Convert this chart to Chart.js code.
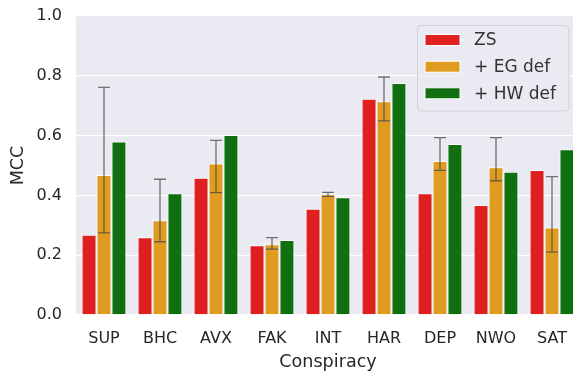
<!DOCTYPE html>
<html>
<head>
<meta charset="utf-8">
<script src="https://cdn.jsdelivr.net/npm/chart.js@4.4.1/dist/chart.umd.min.js"></script>
<style>
  html, body { margin: 0; padding: 0; background: #ffffff; overflow: hidden; }
  #wrap { width: 573px; height: 371px; overflow: hidden; position: relative; }
  #box { width: 584px; height: 371px; position: absolute; left: 0; top: 0; }
</style>
</head>
<body>
<div id="wrap"><div id="box"><canvas id="mccChart"></canvas></div></div>
<script>
// datos
const categories = ['SUP', 'BHC', 'AVX', 'FAK', 'INT', 'HAR', 'DEP', 'NWO', 'SAT'];
const zsValues = [0.268, 0.260, 0.459, 0.233, 0.355, 0.723, 0.407, 0.368, 0.485];
const egValues = [0.468, 0.317, 0.507, 0.237, 0.404, 0.715, 0.515, 0.494, 0.293];
const hwValues = [0.580, 0.407, 0.602, 0.251, 0.394, 0.776, 0.572, 0.479, 0.554];
// barras de error de "+ EG def"
const egLow  = [0.275, 0.245, 0.409, 0.220, 0.397, 0.649, 0.484, 0.449, 0.210];
const egHigh = [0.761, 0.454, 0.584, 0.259, 0.410, 0.796, 0.593, 0.593, 0.463];
const yTicks = [0.0, 0.2, 0.4, 0.6, 0.8, 1.0];

const textColor = '#262626';
const fontFamily = "'DejaVu Sans', sans-serif";

// fondo gris del area del grafico
const plotBackground = {
    id: 'plotBackground',
    beforeDraw(chart) {
        const { ctx, chartArea } = chart;
        ctx.save();
        ctx.fillStyle = '#eaeaf2';
        ctx.fillRect(chartArea.left, chartArea.top, chartArea.right - chartArea.left, chartArea.bottom - chartArea.top);
        ctx.restore();
    }
};

// lineas de error sobre la serie naranja
const errorBars = {
    id: 'errorBars',
    afterDatasetsDraw(chart) {
        const ctx = chart.ctx;
        const y = chart.scales.y;
        const meta = chart.getDatasetMeta(1);
        ctx.save();
        ctx.strokeStyle = 'rgba(70,70,70,0.75)';
        ctx.lineWidth = 1.3;
        meta.data.forEach((bar, i) => {
            const x = bar.x;
            const top = y.getPixelForValue(egHigh[i]);
            const bottom = y.getPixelForValue(egLow[i]);
            const cap = 6;
            ctx.beginPath();
            ctx.moveTo(x, top); ctx.lineTo(x, bottom);
            ctx.moveTo(x - cap, top); ctx.lineTo(x + cap, top);
            ctx.moveTo(x - cap, bottom); ctx.lineTo(x + cap, bottom);
            ctx.stroke();
        });
        ctx.restore();
    }
};

// leyenda dibujada a mano, estilo seaborn
const boxLegend = {
    id: 'boxLegend',
    afterDraw(chart) {
        const ctx = chart.ctx;
        const x0 = 417.5, y0 = 25.5, w = 151.5, h = 85.5, r = 4;
        ctx.save();
        ctx.beginPath();
        ctx.roundRect(x0, y0, w, h, r);
        ctx.fillStyle = 'rgba(234,234,242,0.85)';
        ctx.fill();
        ctx.strokeStyle = '#d0d0d6';
        ctx.lineWidth = 1;
        ctx.stroke();
        ctx.font = '17px ' + fontFamily;
        ctx.textBaseline = 'middle';
        ctx.textAlign = 'left';
        const rows = [40, 66.7, 93.3];
        chart.data.datasets.forEach((ds, i) => {
            const cy = rows[i];
            ctx.fillStyle = ds.backgroundColor;
            ctx.fillRect(425, cy - 5.5, 35, 11);
            ctx.strokeStyle = '#ffffff';
            ctx.lineWidth = 1;
            ctx.strokeRect(425, cy - 5.5, 35, 11);
            ctx.fillStyle = '#333333';
            ctx.fillText(ds.label, 474, cy + 1);
        });
        ctx.restore();
    }
};

const ctx = document.getElementById('mccChart').getContext('2d');
const mccChart = new Chart(ctx, {
    type: 'bar',
    data: {
        labels: categories,
        datasets: [{
            label: 'ZS',
            data: zsValues,
            backgroundColor: '#df2020',
            borderColor: '#ffffff',
            borderWidth: 1
        }, {
            label: '+ EG def',
            data: egValues,
            backgroundColor: '#df9c20',
            borderColor: '#ffffff',
            borderWidth: 1
        }, {
            label: '+ HW def',
            data: hwValues,
            backgroundColor: '#107010',
            borderColor: '#ffffff',
            borderWidth: 1
        }]
    },
    options: {
        responsive: true,
        maintainAspectRatio: false,
        animation: false,
        devicePixelRatio: 1,
        layout: { padding: { top: 16, right: 4, left: 0, bottom: 0 } },
        datasets: {
            bar: { categoryPercentage: 0.8, barPercentage: 1.0 }
        },
        plugins: {
            legend: { display: false },
            tooltip: { enabled: false }
        },
        scales: {
            x: {
                grid: { display: false },
                border: { display: false },
                ticks: {
                    color: textColor,
                    font: { family: fontFamily, size: 16 },
                    padding: 6,
                    maxRotation: 0
                },
                title: {
                    display: true,
                    text: 'Conspiracy',
                    color: textColor,
                    font: { family: fontFamily, size: 17.6, lineHeight: 1.0 },
                    padding: { top: 0, bottom: 0 }
                },
                afterFit(scale) { scale.height = 56; }
            },
            y: {
                min: 0,
                max: 1,
                afterBuildTicks(scale) {
                    scale.ticks = yTicks.map(v => ({ value: v }));
                },
                grid: { color: '#ffffff', lineWidth: 1.3, drawTicks: false },
                border: { display: false },
                ticks: {
                    color: textColor,
                    font: { family: fontFamily, size: 16 },
                    padding: 14,
                    callback: v => Number(v).toFixed(1)
                },
                title: {
                    display: true,
                    text: 'MCC',
                    color: textColor,
                    font: { family: fontFamily, size: 17.6, lineHeight: 1.1 },
                    padding: { top: 9, bottom: 0 }
                },
                afterFit(scale) {
                    scale.width = 76;
                    scale.paddingTop = 0;
                    scale.paddingBottom = 0;
                }
            }
        }
    },
    plugins: [plotBackground, errorBars, boxLegend]
});
</script>
</body>
</html>
